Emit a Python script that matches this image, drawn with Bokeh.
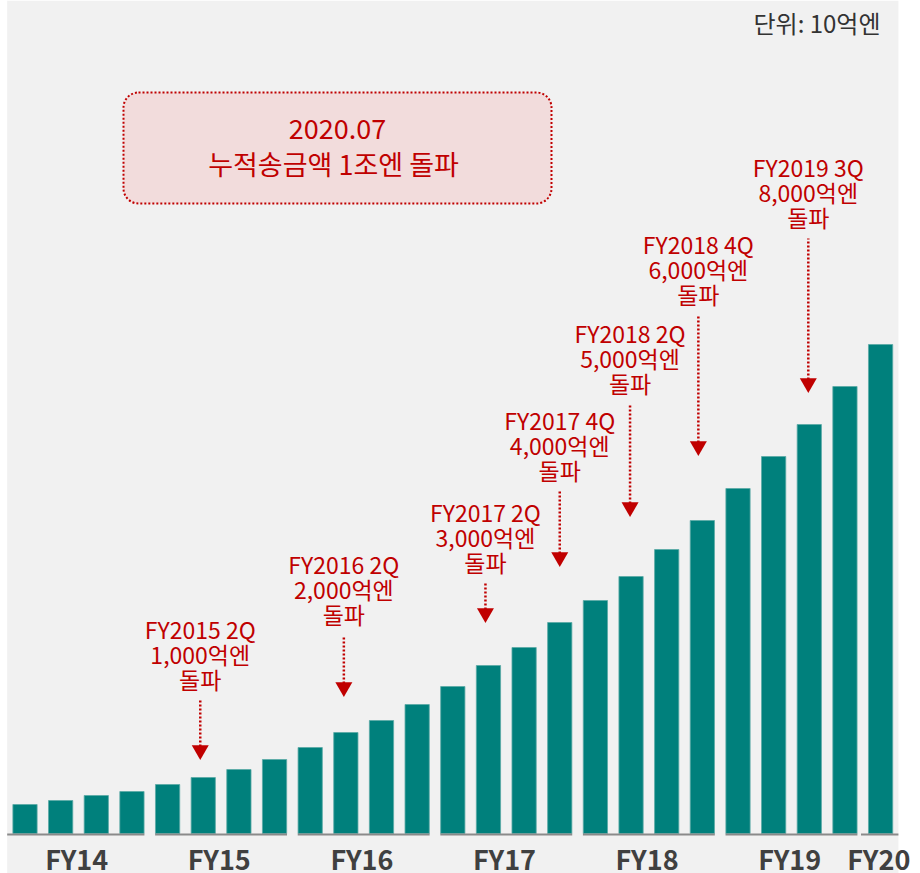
from bokeh.plotting import figure
from bokeh.models import Range1d, BoxAnnotation
from bokeh.core.properties import value
from bokeh.embed import file_html
from bokeh.resources import INLINE

# ---------------- data ----------------
quarters = ["FY14 Q1", "FY14 Q2", "FY14 Q3", "FY14 Q4",
            "FY15 Q1", "FY15 Q2", "FY15 Q3", "FY15 Q4",
            "FY16 Q1", "FY16 Q2", "FY16 Q3", "FY16 Q4",
            "FY17 Q1", "FY17 Q2", "FY17 Q3", "FY17 Q4",
            "FY18 Q1", "FY18 Q2", "FY18 Q3", "FY18 Q4",
            "FY19 Q1", "FY19 Q2", "FY19 Q3", "FY19 Q4",
            "FY20 Q1"]
# cumulative remittance, unit: 10억엔
remit = [58, 66, 76, 84, 98, 112, 128, 148, 172, 202, 226, 258, 294,
         336, 372, 422, 466, 514, 568, 626, 690, 754, 818, 894, 978]

fy_labels = ["FY14", "FY15", "FY16", "FY17", "FY18", "FY19", "FY20"]
fy_quarter_counts = [4, 4, 4, 4, 4, 4, 1]

ann_quarter = ["FY15 Q2", "FY16 Q2", "FY17 Q2", "FY17 Q4", "FY18 Q2", "FY18 Q4", "FY19 Q3"]
ann_line1 = ["FY2015 2Q", "FY2016 2Q", "FY2017 2Q", "FY2017 4Q", "FY2018 2Q", "FY2018 4Q", "FY2019 3Q"]
ann_line2 = ["1,000억엔", "2,000억엔", "3,000억엔", "4,000억엔", "5,000억엔", "6,000억엔", "8,000억엔"]
ann_line3 = ["돌파", "돌파", "돌파", "돌파", "돌파", "돌파", "돌파"]

box_line1 = "2020.07"
box_line2 = "누적송금액 1조엔 돌파"
unit_text = "단위: 10억엔"

# ---------------- layout / style ----------------
W, H = 920, 873
STEP = 35.65            # px per category
X0 = -24.5 / STEP
BASE_Y = 833            # page y of the value 0
Y_PER_PX = 2.0
Y0 = -(H - BASE_Y) * Y_PER_PX
Y1 = BASE_Y * Y_PER_PX

arrow_gap_px = [18, 36, 43, 56, 60, 65, 32]
stem_px = [59, 61, 39, 75, 112, 140, 154]
arrow_nudge_px = [-3, -2, -3, 0, -1, -4, -1]

RED = "#c00000"
TEAL = "#00807c"
BG = "#f1f1f1"
FONT = "Noto Sans CJK KR"


def sx(page_x):
    return X0 + page_x / STEP


def sy(page_y):
    return (BASE_Y - page_y) * Y_PER_PX


p = figure(width=W, height=H, output_backend="svg", toolbar_location=None,
           x_range=Range1d(X0, X0 + W / STEP), y_range=Range1d(Y0, Y1),
           x_axis_location=None, y_axis_location=None, min_border=0,
           background_fill_color="white", border_fill_color="white")
p.grid.visible = False
p.outline_line_color = None

n = len(quarters)
idx = list(range(n))

p.add_layout(BoxAnnotation(left=-0.5, right=n - 0.5, fill_color=BG, fill_alpha=1,
                           line_color=None, level="underlay"))

# highlight box (under the texts)
p.add_layout(BoxAnnotation(left=sx(123), right=sx(551), top=sy(92), bottom=sy(203),
                           fill_color="#f2dcdc", fill_alpha=1, line_color=RED,
                           line_alpha=1, line_width=2, line_dash="2 2",
                           border_radius=15, level="underlay"))

# bars
p.vbar(x=idx, top=remit, bottom=0, width=0.68, fill_color=TEAL,
       line_color="#5aa9a6", line_width=0.8)

# baselines per fiscal year + FY labels
x0s, x1s, lx = [], [], []
start = 0
for g, cnt in enumerate(fy_quarter_counts):
    first, last = start, start + cnt - 1
    a = first - 0.35
    b = last + 0.35
    if g == 0:
        a = -0.5
    if g == len(fy_quarter_counts) - 1:
        a = first - 0.55
        b = last + 0.5
    x0s.append(a)
    x1s.append(b)
    lx.append((first + last) / 2 - 0.05)
    start += cnt
p.segment(x0=x0s, x1=x1s, y0=[-1 * Y_PER_PX] * len(x0s), y1=[-1 * Y_PER_PX] * len(x0s),
          line_color="#8a8a8a", line_width=2)
p.text(x=lx, y=[-25 * Y_PER_PX] * len(lx), text=fy_labels, text_align="center",
       text_baseline="middle", text_font=value(FONT), text_font_style="bold",
       text_font_size="27px", text_color="#404040")

# annotations
ax, tri_y, stem_b, stem_t, t1, t2, t3 = [], [], [], [], [], [], []
for k, q in enumerate(ann_quarter):
    i = quarters.index(q)
    tip = remit[i] + arrow_gap_px[k] * Y_PER_PX
    top = tip + stem_px[k] * Y_PER_PX
    ax.append(i + arrow_nudge_px[k] / STEP)
    tri_y.append(tip + 9.24 * Y_PER_PX)
    stem_b.append(tip + 13 * Y_PER_PX)
    stem_t.append(top)
    t3.append(top + 22 * Y_PER_PX)
    t2.append(top + 47 * Y_PER_PX)
    t1.append(top + 72 * Y_PER_PX)

p.segment(x0=ax, x1=ax, y0=stem_b, y1=stem_t, line_color=RED, line_width=2.5,
          line_dash="2 2")
p.scatter(x=ax, y=tri_y, marker="inverted_triangle", size=17, fill_color=RED,
          line_color=None)
for ys, txt in ((t1, ann_line1), (t2, ann_line2), (t3, ann_line3)):
    p.text(x=ax, y=ys, text=txt, text_align="center", text_baseline="middle",
           text_font=value(FONT), text_font_size="23px", text_color=RED)

p.text(x=[sx(337)], y=[sy(128)], text=[box_line1], text_align="center",
       text_baseline="middle", text_font=value(FONT), text_font_size="27px",
       text_color=RED)
p.text(x=[sx(333)], y=[sy(163)], text=[box_line2], text_align="center",
       text_baseline="middle", text_font=value(FONT), text_font_size="27px",
       text_color=RED)

# unit label
p.text(x=[sx(880)], y=[sy(22)], text=[unit_text], text_align="right",
       text_baseline="middle", text_font=value(FONT), text_font_size="24px",
       text_color="#333333")

open("out.html", "w").write(file_html(p, INLINE))
